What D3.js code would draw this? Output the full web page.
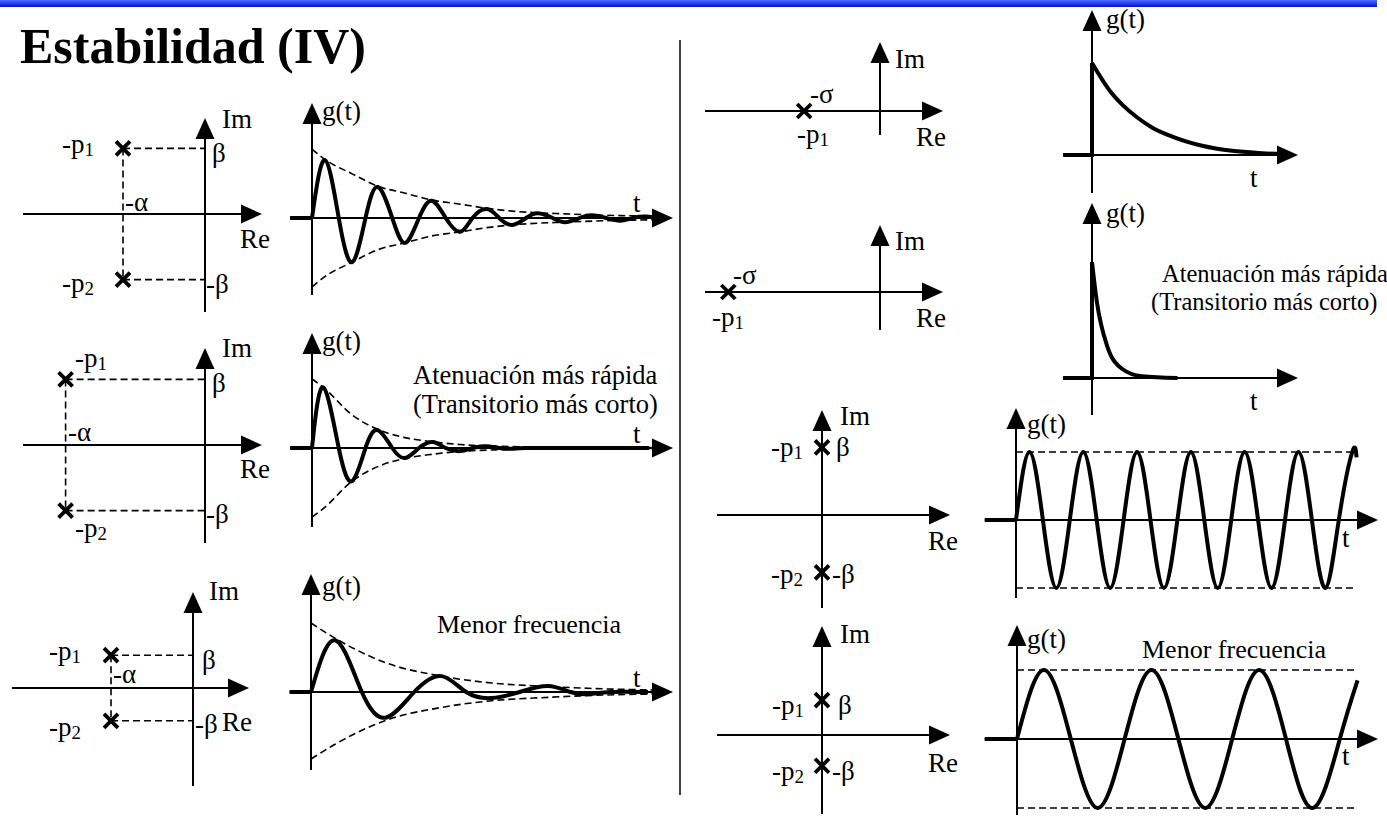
<!DOCTYPE html>
<html>
<head>
<meta charset="utf-8">
<script src="https://cdn.jsdelivr.net/npm/d3@7"></script>
<style>
  body { margin: 0; background: #fff; }
  text { font-family: "Liberation Serif", "Times New Roman", serif; fill: #000; }
</style>
</head>
<body>
<svg id="canvas"></svg>
<script>
const WIDTH = 1387;
const HEIGHT = 818;

// ---------- values ----------
const title = "Estabilidad (IV)";
const axisNames = ["Re", "Im", "g(t)", "t"];
const poleNames = [["-p", "1"], ["-p", "2"]];
const imMarks = ["β", "-β"];
const reMark = "-α";
const sigmaMark = "-σ";
const fasterNote = ["Atenuación más rápida", "(Transitorio más corto)"];
const slowerNote = "Menor frecuencia";

// pole positions (Re, Im)
const polesDamped = [[-2, 1.6], [-2, -1.6]];
const polesFaster = [[-3.4, 1.6], [-3.4, -1.6]];
const polesSlower = [[-2, 0.8], [-2, -0.8]];
const poleReal = [[-1.85, 0]];
const poleRealFar = [[-3.7, 0]];
const polesImag = [[0, 1.65], [0, -1.4]];
const polesImagLow = [[0, 0.85], [0, -0.75]];

// time responses [t, g]; t in periods of the fast oscillation
const gDamped = [[0, 0], [0.24, 0.84], [0.5, 0], [0.75, -0.64], [1, 0], [1.23, 0.45], [1.5, 0],
  [1.74, -0.36], [2, 0], [2.24, 0.25], [2.5, 0], [2.77, -0.2], [3, 0], [3.27, 0.13], [3.5, 0],
  [3.74, -0.1], [4, 0], [4.22, 0.07], [4.5, 0], [4.73, -0.06], [5, 0], [5.23, 0.04], [5.5, 0],
  [5.76, -0.04], [6, 0], [6.25, 0.02], [6.5, 0], [6.6, -0.01]];
const envDamped = [[0, 1], [0.24, 0.85], [0.75, 0.64], [1.23, 0.46], [1.74, 0.36], [2.24, 0.26],
  [2.77, 0.2], [3.27, 0.14], [3.74, 0.1], [4.22, 0.075], [4.73, 0.06], [5.23, 0.045],
  [5.76, 0.035], [6.4, 0.025]];

const gFaster = [[0, 0], [0.21, 0.88], [0.5, 0], [0.75, -0.48], [1, 0], [1.23, 0.26], [1.5, 0],
  [1.74, -0.145], [2, 0], [2.26, 0.087], [2.5, 0], [2.77, -0.045], [3, 0], [3.25, 0.025],
  [3.5, 0], [3.75, -0.012], [4, 0], [5, 0], [6.3, 0]];
const envFaster = [[0, 1], [0.21, 0.88], [0.75, 0.48], [1.23, 0.27], [1.74, 0.15], [2.26, 0.09],
  [2.77, 0.05], [3.5, 0.025], [4.5, 0.012], [6.4, 0.005]];

const gSlower = [[0, 0], [0.45, 0.75], [0.95, 0], [1.41, -0.38], [1.93, 0], [2.44, 0.23],
  [2.9, 0], [3.38, -0.09], [3.9, 0], [4.43, 0.087], [4.85, 0], [5.2, -0.03], [5.6, 0], [6.3, 0]];
const envSlower = [[0, 1], [0.45, 0.78], [1.41, 0.42], [2.44, 0.23], [3.38, 0.13], [4.43, 0.08],
  [5.5, 0.045], [6.4, 0.03]];

const gReal = [[0, 1], [0.19, 0.82], [0.37, 0.67], [0.56, 0.55], [0.84, 0.41], [1.12, 0.3],
  [1.5, 0.2], [2.06, 0.1], [2.62, 0.045], [3.18, 0.02], [3.55, 0.01]];
const gRealFar = [[0, 1], [0.09, 0.66], [0.28, 0.28], [0.56, 0.08], [0.93, 0.015], [1.6, 0]];

const gSine = [[0, 0], [0.25, 1], [0.5, 0], [0.75, -1], [1, 0], [1.25, 1], [1.5, 0], [1.75, -1],
  [2, 0], [2.25, 1], [2.5, 0], [2.75, -1], [3, 0], [3.25, 1], [3.5, 0], [3.75, -1], [4, 0],
  [4.25, 1], [4.5, 0], [4.75, -1], [5, 0], [5.25, 1], [5.5, 0], [5.75, -1], [6, 0], [6.25, 1],
  [6.33, 0.92]];
const gSineLow = [[0, 0], [0.5, 1], [1, 0], [1.5, -1], [2, 0], [2.5, 1], [3, 0], [3.5, -1],
  [4, 0], [4.5, 1], [5, 0], [5.5, -1], [6, 0], [6.33, 0.85]];
const sineBounds = [1, -1];

// ---------- drawing ----------
const svg = d3.select("#canvas").attr("width", WIDTH).attr("height", HEIGHT);

const K = 41; // px per unit in the s-planes
const ARROW_L = 21;
const ARROW_W = 9.5;
const FONT = 27;

const defs = svg.append("defs");
const grad = defs.append("linearGradient").attr("id", "bar")
  .attr("x1", 0).attr("y1", 0).attr("x2", 0).attr("y2", 1);
grad.append("stop").attr("offset", "0%").attr("stop-color", "#4d6bff");
grad.append("stop").attr("offset", "100%").attr("stop-color", "#0010c8");
svg.append("rect").attr("x", 0).attr("y", 0).attr("width", 1377).attr("height", 7)
  .attr("fill", "url(#bar)");

svg.append("text").attr("x", 20).attr("y", 63).attr("font-size", 50)
  .attr("font-weight", "bold").text(title);

svg.append("line").attr("x1", 680).attr("y1", 40).attr("x2", 680).attr("y2", 795)
  .attr("stroke", "#000").attr("stroke-width", 1.5);

const arrow = (x1, y1, x2, y2) => {
  const a = Math.atan2(y2 - y1, x2 - x1);
  const bx = x2 - ARROW_L * Math.cos(a);
  const by = y2 - ARROW_L * Math.sin(a);
  svg.append("line").attr("x1", x1).attr("y1", y1).attr("x2", bx).attr("y2", by)
    .attr("stroke", "#000").attr("stroke-width", 2);
  const nx = -Math.sin(a) * ARROW_W;
  const ny = Math.cos(a) * ARROW_W;
  svg.append("path")
    .attr("d", `M${x2},${y2}L${bx + nx},${by + ny}L${bx - nx},${by - ny}Z`)
    .attr("fill", "#000");
};

const label = (x, y, txt, sub, size = FONT) => {
  const t = svg.append("text").attr("x", x).attr("y", y).attr("font-size", size).text(txt);
  if (sub) t.append("tspan").attr("font-size", size * 0.7).attr("dy", 3).text(sub);
};

const dashLine = (x1, y1, x2, y2) => {
  svg.append("line").attr("x1", x1).attr("y1", y1).attr("x2", x2).attr("y2", y2)
    .attr("stroke", "#000").attr("stroke-width", 1.6).attr("stroke-dasharray", "7,4");
};

const drawPlane = (p, poles) => {
  const x = d3.scaleLinear().domain([0, 1]).range([p.ox, p.ox + K]);
  const y = d3.scaleLinear().domain([0, 1]).range([p.oy, p.oy - K]);

  arrow(p.left, p.oy, p.right, p.oy);
  arrow(p.ox, p.bottom, p.ox, p.top);

  if (p.dashed) {
    poles.forEach(([re, im]) => dashLine(x(re), y(im), x(0), y(im)));
    dashLine(x(poles[0][0]), y(poles[0][1]), x(poles[1][0]), y(poles[1][1]));
  }

  poles.forEach(([re, im]) => {
    const cx = x(re), cy = y(im), s = 7;
    svg.append("path")
      .attr("d", `M${cx - s},${cy - s}L${cx + s},${cy + s}M${cx - s},${cy + s}L${cx + s},${cy - s}`)
      .attr("stroke", "#000").attr("stroke-width", 3.8);
  });

  label(p.im[0], p.im[1], axisNames[1]);
  label(p.re[0], p.re[1], axisNames[0]);
  p.poleLabels.forEach((pos, i) => label(pos[0], pos[1], poleNames[i][0], poleNames[i][1]));
  if (p.marks) p.marks.forEach((pos, i) => label(pos[0], pos[1], imMarks[i]));
  if (p.alpha) label(p.alpha[0], p.alpha[1], reMark);
  if (p.sigma) label(p.sigma[0], p.sigma[1], sigmaMark);
};

const drawTime = (p, series, env, bounds, curve) => {
  const x = d3.scaleLinear().domain([0, 1]).range([p.ox, p.ox + p.unit]);
  const y = d3.scaleLinear().domain([-1, 0, 1]).range([p.oy + p.down, p.oy, p.oy - p.up]);

  arrow(x(p.lead), y(0), p.right, y(0));
  arrow(p.ox, p.bottom, p.ox, p.top);

  const line = d3.line().x((d) => x(d[0])).y((d) => y(d[1]));

  if (env) {
    [1, -1].forEach((sgn) => {
      svg.append("path")
        .datum(env.map((d) => [d[0], sgn * d[1]]))
        .attr("d", line.curve(d3.curveMonotoneX))
        .attr("fill", "none").attr("stroke", "#000").attr("stroke-width", 1.6)
        .attr("stroke-dasharray", "7,4");
    });
  }
  if (bounds) {
    bounds.forEach((b) => dashLine(x(0), y(b), x(p.boundEnd), y(b)));
  }

  // zero part for t < 0 (and step, when the response starts at g(0) > 0)
  const lead = [[p.lead, 0], [0, 0], [0, series[0][1]]];
  svg.append("path").datum(lead).attr("d", line.curve(d3.curveLinear))
    .attr("fill", "none").attr("stroke", "#000").attr("stroke-width", 4);

  svg.append("path").datum(series).attr("d", line.curve(curve))
    .attr("fill", "none").attr("stroke", "#000").attr("stroke-width", 4)
    .attr("stroke-linejoin", "round");

  label(p.g[0], p.g[1], axisNames[2]);
  label(p.t[0], p.t[1], axisNames[3]);
};

// ---------- layout ----------
drawPlane({ ox: 205, oy: 214, left: 23, right: 262, top: 118, bottom: 312, dashed: true,
  im: [222, 128], re: [240, 248], poleLabels: [[62, 153], [62, 292]],
  marks: [[212, 162], [206, 293]], alpha: [125, 211] }, polesDamped);
drawPlane({ ox: 205, oy: 445, left: 23, right: 262, top: 348, bottom: 543, dashed: true,
  im: [222, 357], re: [240, 478], poleLabels: [[75, 367], [75, 537]],
  marks: [[212, 392], [206, 523]], alpha: [68, 441] }, polesFaster);
drawPlane({ ox: 193, oy: 688, left: 12, right: 249, top: 592, bottom: 786, dashed: true,
  im: [209, 600], re: [222, 731], poleLabels: [[49, 660], [49, 736]],
  marks: [[202, 669], [195, 733]], alpha: [113, 683] }, polesSlower);

drawPlane({ ox: 880, oy: 111, left: 705, right: 943, top: 42, bottom: 135,
  im: [895, 68], re: [916, 146], poleLabels: [[797, 143]], sigma: [810, 103] }, poleReal);
drawPlane({ ox: 880, oy: 292, left: 705, right: 943, top: 225, bottom: 330,
  im: [895, 250], re: [916, 327], poleLabels: [[712, 326]], sigma: [733, 284] }, poleRealFar);
drawPlane({ ox: 822, oy: 515, left: 717, right: 950, top: 410, bottom: 608,
  im: [840, 425], re: [928, 550], poleLabels: [[771, 456], [771, 583]],
  marks: [[836, 456], [832, 583]] }, polesImag);
drawPlane({ ox: 822, oy: 735, left: 717, right: 950, top: 626, bottom: 814,
  im: [840, 643], re: [928, 772], poleLabels: [[772, 714], [772, 780]],
  marks: [[838, 714], [832, 780]] }, polesImagLow);

drawTime({ ox: 312, oy: 218, unit: 53.5, up: 69, down: 69, lead: -0.41, right: 673,
  top: 103, bottom: 295, g: [322, 120], t: [633, 212] }, gDamped, envDamped, null, d3.curveNatural);
drawTime({ ox: 312, oy: 448, unit: 53.5, up: 69, down: 69, lead: -0.41, right: 673,
  top: 333, bottom: 527, g: [322, 350], t: [633, 443] }, gFaster, envFaster, null, d3.curveNatural);
drawTime({ ox: 311, oy: 692, unit: 53.5, up: 69, down: 67, lead: -0.4, right: 673,
  top: 574, bottom: 770, g: [322, 595], t: [633, 687] }, gSlower, envSlower, null, d3.curveNatural);

drawTime({ ox: 1092, oy: 155, unit: 53.5, up: 92, down: 92, lead: -0.54, right: 1298,
  top: 10, bottom: 193, g: [1106, 28], t: [1250, 187] }, gReal, null, null, d3.curveMonotoneX);
drawTime({ ox: 1092, oy: 378, unit: 53.5, up: 116, down: 116, lead: -0.54, right: 1298,
  top: 203, bottom: 415, g: [1106, 222], t: [1250, 410] }, gRealFar, null, null, d3.curveMonotoneX);
drawTime({ ox: 1016, oy: 520, unit: 53.8, up: 68, down: 68, lead: -0.58, right: 1378,
  top: 408, bottom: 598, boundEnd: 6.3, g: [1027, 433], t: [1342, 547] }, gSine, null, sineBounds, d3.curveNatural);
drawTime({ ox: 1017, oy: 739, unit: 53.8, up: 69, down: 69, lead: -0.6, right: 1378,
  top: 625, bottom: 815, boundEnd: 6.28, g: [1027, 648], t: [1342, 765] }, gSineLow, null, sineBounds, d3.curveNatural);

label(413, 384, fasterNote[0], null, 26.5);
label(413, 413, fasterNote[1], null, 26.5);
label(1162, 282, fasterNote[0], null, 24.5);
label(1151, 310, fasterNote[1], null, 24.5);
label(437, 633, slowerNote, null, 26);
label(1142, 658, slowerNote, null, 26);
</script>
</body>
</html>
